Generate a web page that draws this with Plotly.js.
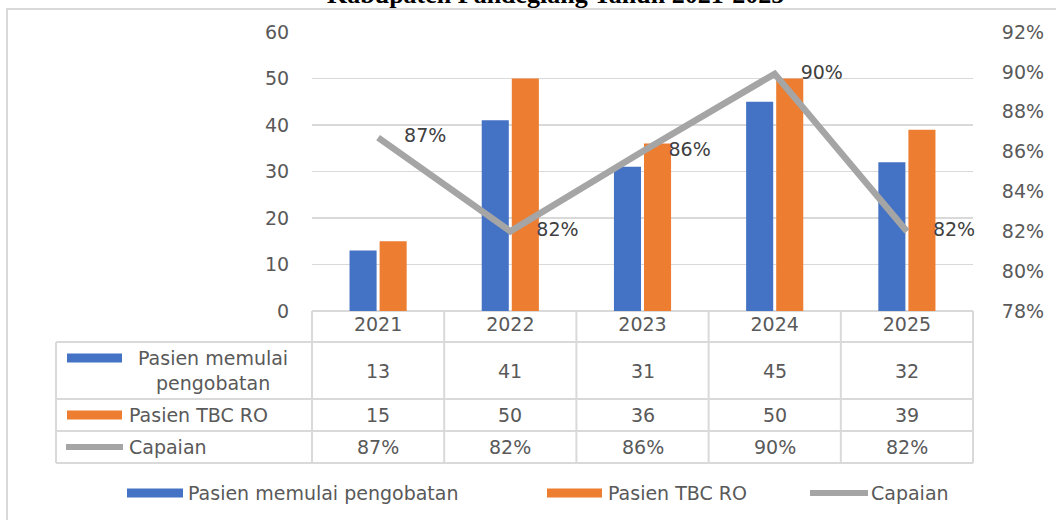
<!DOCTYPE html>
<html>
<head>
<meta charset="utf-8">
<script src="https://cdn.plot.ly/plotly-3.0.1.min.js"></script>
<style>
  html, body { margin: 0; padding: 0; background: #ffffff; }
  #chart { width: 1056px; height: 520px; }
</style>
</head>
<body>
<div id="chart"></div>
<script>
// ---- data ----
const years = ['2021', '2022', '2023', '2024', '2025'];
const pasienMulai = [13, 41, 31, 45, 32];
const pasienTBCRO = [15, 50, 36, 50, 39];
const capaian = [0.867, 0.82, 0.86, 0.899, 0.82];
const seriesNames = ['Pasien memulai pengobatan', 'Pasien TBC RO', 'Capaian'];
const tableRowLabels = ['Pasien memulai<br>pengobatan', 'Pasien TBC RO', 'Capaian'];
const chartTitle = 'Kabupaten Pandeglang Tahun 2021-2025';

// ---- style ----
const BLUE = '#4472c4', ORANGE = '#ed7d31', GRAY = '#a5a5a5';
const GRID = '#d9d9d9', TXT = '#595959', LBL = '#404040';
const FONT = 'DejaVu Sans, sans-serif';
const FS = 19;

const W = 1056, H = 520;
const L = 312, R = 973, T = 32, B = 311;
const px = p => (p - L) / (R - L);
const py = p => (B - p) / (B - T);

const pct = v => Math.round(v * 100) + '%';

const traces = [
  { type: 'bar', name: seriesNames[0], x: years, y: pasienMulai,
    marker: { color: BLUE }, hoverinfo: 'skip' },
  { type: 'bar', name: seriesNames[1], x: years, y: pasienTBCRO,
    marker: { color: ORANGE }, hoverinfo: 'skip' },
  { type: 'scatter', name: seriesNames[2], x: years, y: capaian, yaxis: 'y2',
    mode: 'lines+markers+text', line: { color: GRAY, width: 6.5 },
    marker: { size: 40, color: 'rgba(0,0,0,0)' },
    text: capaian.map(pct), textposition: 'middle right',
    textfont: { family: FONT, size: FS, color: LBL }, cliponaxis: false, hoverinfo: 'skip' }
];

const shapes = [];
const annotations = [];
const lineStyle = { color: GRID, width: 2 };

// outer frame
shapes.push({ type: 'rect', xref: 'paper', yref: 'paper',
  x0: px(7), x1: px(1070), y0: py(9), y1: py(540), line: lineStyle, layer: 'below' });

// table rows (pixel y boundaries)
const rowTop = [342, 399, 431];
const rowBottom = [399, 431, 463];
const tableLeft = 56;
[342, 399, 431, 463].forEach(y => {
  shapes.push({ type: 'line', xref: 'paper', yref: 'paper',
    x0: px(tableLeft), x1: 1, y0: py(y), y1: py(y), line: lineStyle });
});
shapes.push({ type: 'line', xref: 'paper', yref: 'paper',
  x0: px(tableLeft), x1: px(tableLeft), y0: py(342), y1: py(463), line: lineStyle });
for (let i = 0; i <= years.length; i++) {
  shapes.push({ type: 'line', xref: 'paper', yref: 'paper',
    x0: i / years.length, x1: i / years.length, y0: py(311), y1: py(463), line: lineStyle });
}

// table contents
const rows = [pasienMulai.map(String), pasienTBCRO.map(String), capaian.map(pct)];
const swatchColors = [BLUE, ORANGE, GRAY];
rows.forEach((vals, r) => {
  const yc = (rowTop[r] + rowBottom[r]) / 2;
  vals.forEach((v, i) => {
    annotations.push({ xref: 'paper', yref: 'paper', x: (i + 0.5) / years.length, y: py(yc),
      text: v, showarrow: false, xanchor: 'center', yanchor: 'middle',
      font: { family: FONT, size: FS, color: TXT } });
  });
  // row label
  if (r === 0) {
    annotations.push({ xref: 'paper', yref: 'paper', x: px(213), y: py(yc),
      text: tableRowLabels[r], showarrow: false, xanchor: 'center', yanchor: 'middle',
      align: 'center', font: { family: FONT, size: FS, color: TXT } });
  } else {
    annotations.push({ xref: 'paper', yref: 'paper', x: px(127), y: py(yc),
      text: tableRowLabels[r], showarrow: false, xanchor: 'left', yanchor: 'middle',
      font: { family: FONT, size: FS, color: TXT } });
  }
  // swatch
  const sy = r === 0 ? 358 : yc;
  if (r < 2) {
    shapes.push({ type: 'rect', xref: 'paper', yref: 'paper',
      x0: px(67), x1: px(122), y0: py(sy - 4.5), y1: py(sy + 4.5),
      fillcolor: swatchColors[r], line: { width: 0 } });
  } else {
    shapes.push({ type: 'line', xref: 'paper', yref: 'paper',
      x0: px(66), x1: px(123), y0: py(sy), y1: py(sy),
      line: { color: GRAY, width: 6 } });
  }
});

// custom legend at bottom
const legendY = 493;
const legendItems = [
  { sx0: 127, sx1: 183, tx: 186 },
  { sx0: 547, sx1: 602, tx: 606 },
  { sx0: 810, sx1: 868, tx: 869 }
];
legendItems.forEach((it, k) => {
  if (k < 2) {
    shapes.push({ type: 'rect', xref: 'paper', yref: 'paper',
      x0: px(it.sx0), x1: px(it.sx1), y0: py(legendY - 4.5), y1: py(legendY + 4.5),
      fillcolor: swatchColors[k], line: { width: 0 } });
  } else {
    shapes.push({ type: 'line', xref: 'paper', yref: 'paper',
      x0: px(it.sx0), x1: px(it.sx1), y0: py(legendY), y1: py(legendY),
      line: { color: GRAY, width: 6 } });
  }
  annotations.push({ xref: 'paper', yref: 'paper', x: px(it.tx), y: py(legendY),
    text: seriesNames[k], showarrow: false, xanchor: 'left', yanchor: 'middle',
    font: { family: FONT, size: FS, color: TXT } });
});

// (cut-off) title
annotations.push({ xref: 'paper', yref: 'paper', x: px(555), y: py(11),
  text: '<b>' + chartTitle + '</b>', showarrow: false, xanchor: 'center', yanchor: 'bottom',
  font: { family: 'Liberation Serif, serif', size: 26, color: '#000000' } });

const layout = {
  width: W, height: H,
  margin: { l: L, r: W - R, t: T, b: H - B, pad: 0 },
  paper_bgcolor: '#ffffff', plot_bgcolor: '#ffffff',
  showlegend: false,
  barmode: 'group', bargap: 0.545, bargroupgap: 0.1,
  font: { family: FONT, size: FS, color: TXT },
  xaxis: { type: 'category', range: [-0.5, years.length - 0.5], autorange: false,
    showgrid: false, showline: false, zeroline: false,
    ticks: '', tickfont: { family: FONT, size: FS, color: TXT }, fixedrange: true },
  yaxis: { range: [0, 60], dtick: 10, showgrid: true, gridcolor: GRID, gridwidth: 1.5,
    zeroline: true, zerolinecolor: GRID, zerolinewidth: 2, showline: false,
    ticks: 'outside', ticklen: 18, tickcolor: 'rgba(0,0,0,0)',
    tickfont: { family: FONT, size: FS, color: TXT }, fixedrange: true },
  yaxis2: { overlaying: 'y', side: 'right', range: [0.78, 0.92], dtick: 0.02,
    tickformat: '.0%', showgrid: false, zeroline: false, showline: false,
    ticks: 'outside', ticklen: 24, tickcolor: 'rgba(0,0,0,0)',
    tickfont: { family: FONT, size: FS, color: TXT }, fixedrange: true },
  shapes: shapes,
  annotations: annotations
};

Plotly.newPlot('chart', traces, layout, { displayModeBar: false, staticPlot: true });
</script>
</body>
</html>
